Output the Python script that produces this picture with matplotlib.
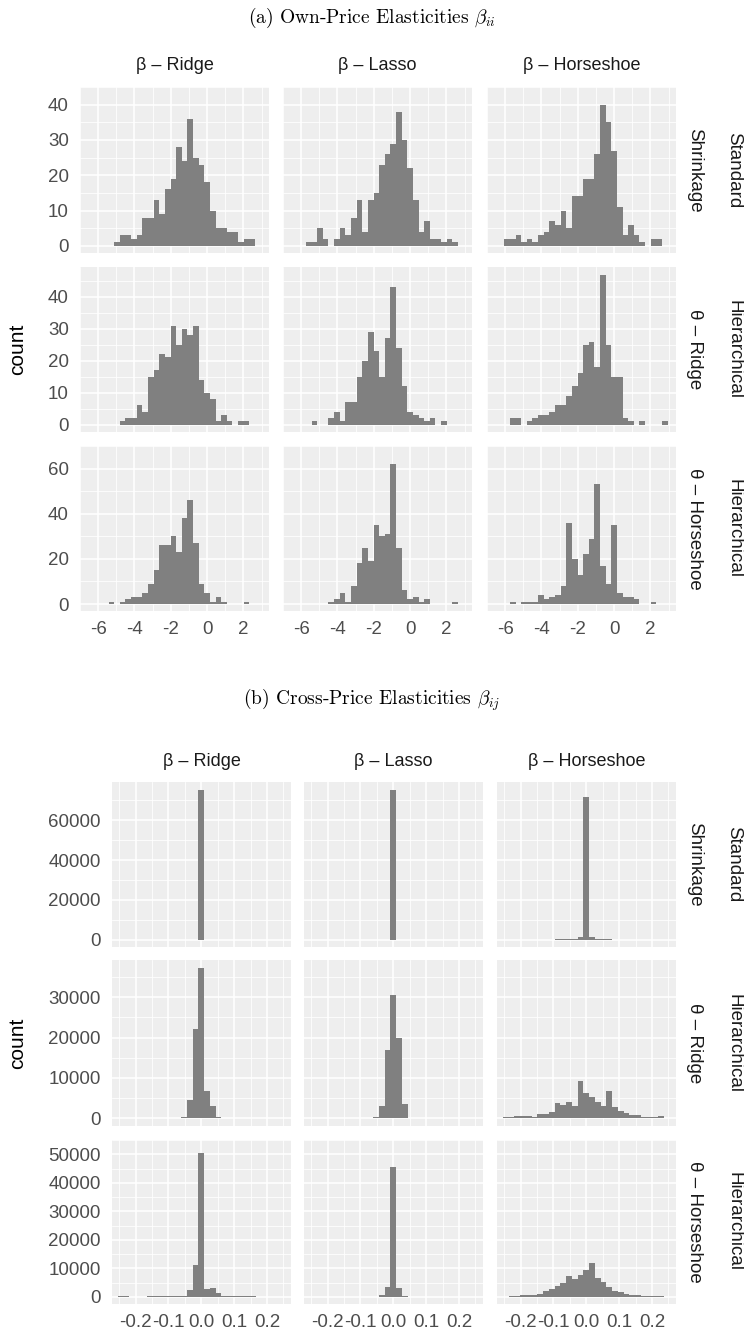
import numpy as np
import matplotlib.pyplot as plt

plt.rcParams['font.family'] = ['Liberation Sans', 'DejaVu Sans']
plt.rcParams['mathtext.fontset'] = 'cm'
plt.rcParams['axes.unicode_minus'] = False

W, H = 744, 1336

col_names = ['β – Ridge', 'β – Lasso', 'β – Horseshoe']
row_names = [('Standard', 'Shrinkage'),
             ('Hierarchical', 'θ – Ridge'),
             ('Hierarchical', 'θ – Horseshoe')]

# ---- (a) own-price elasticities: 30 bins centred on k*0.31, k = -20..9 ----
own_bin_w = 0.31
own_k0 = -20
own_ridge_std = [0, 0, 0, 0, 1, 3, 3, 2, 3, 8, 8, 13, 9, 16, 19, 28, 24, 36, 25, 23,
                 18, 10, 5, 5, 4, 4, 1, 2, 2, 0]
own_lasso_std = [0, 0, 1, 1, 5, 2, 0, 2, 5, 3, 8, 13, 4, 13, 15, 23, 26, 29, 38, 30,
                 22, 13, 4, 7, 2, 2, 1, 2, 1, 0]
own_hs_std = [0, 2, 2, 3, 1, 2, 1, 3, 4, 7, 6, 10, 5, 14, 14, 19, 19, 26, 40, 35,
              27, 11, 3, 6, 3, 1, 0, 2, 2, 0]
own_ridge_hr = [0, 0, 0, 0, 0, 1, 2, 2, 6, 4, 15, 17, 22, 21, 31, 25, 30, 28, 31, 14,
                10, 8, 1, 3, 1, 0, 1, 1, 0, 0]
own_lasso_hr = [0, 0, 0, 1, 0, 0, 2, 4, 1, 7, 7, 15, 20, 29, 23, 15, 27, 43, 24, 12,
                4, 3, 2, 1, 2, 0, 1, 0, 0, 0]
own_hs_hr = [0, 0, 2, 2, 0, 1, 2, 3, 3, 4, 6, 6, 9, 12, 16, 25, 26, 18, 47, 25,
             15, 15, 2, 1, 0, 1, 0, 0, 0, 1]
own_ridge_hh = [0, 0, 0, 1, 0, 1, 2, 3, 3, 5, 9, 15, 26, 26, 30, 23, 38, 46, 27, 9,
                5, 1, 3, 1, 0, 0, 0, 1, 0, 0]
own_lasso_hh = [0, 0, 0, 0, 0, 0, 1, 2, 5, 1, 8, 18, 25, 19, 35, 30, 31, 62, 25, 6,
                2, 3, 1, 2, 0, 0, 0, 0, 1, 0]
own_hs_hh = [0, 0, 1, 0, 1, 1, 1, 4, 2, 3, 4, 8, 36, 20, 13, 22, 29, 53, 17, 9,
             35, 5, 3, 3, 2, 0, 0, 1, 0, 0]

own_grid = [[own_ridge_std, own_lasso_std, own_hs_std],
            [own_ridge_hr, own_lasso_hr, own_hs_hr],
            [own_ridge_hh, own_lasso_hh, own_hs_hh]]
own_xticks = [-6, -4, -2, 0, 2]
own_yticks = [[0, 10, 20, 30, 40], [0, 10, 20, 30, 40], [0, 20, 40, 60]]

# ---- (b) cross-price elasticities: 30 bins centred on k*0.0175, k = -15..14 ----
cross_bin_w = 0.0175
cross_k0 = -15
cross_ridge_std = [0] * 15 + [75500] + [0] * 14
cross_lasso_std = [0] * 15 + [75200] + [0] * 14
cross_hs_std = [0] * 10 + [200, 200, 200, 200, 1300, 71800, 1300, 200, 200, 200] + [0] * 10
cross_ridge_hr = [0] * 12 + [250, 4600, 22200, 37300, 6700, 3100, 420] + [0] * 11
cross_lasso_hr = [0] * 12 + [300, 3000, 17000, 30500, 20000, 3500, 0] + [0] * 11
cross_hs_hr = [0, 250, 250, 580, 580, 580, 250, 1000, 1000, 1670, 3750, 3330, 4170, 3080,
               9330, 6250, 5400, 4170, 3170, 6670, 2900, 1830, 1250, 830, 830, 250, 250,
               250, 580, 0]
cross_ridge_hh = [0, 150, 150, 0, 0, 0, 150, 150, 150, 150, 300, 250, 250, 2300, 11200,
                  50300, 2800, 3100, 1200, 250, 150, 150, 150, 150, 150, 0, 0, 0, 0, 0]
cross_lasso_hh = [0] * 13 + [500, 3500, 45500, 3000, 400] + [0] * 12
cross_hs_hh = [0, 0, 200, 200, 500, 500, 800, 1100, 1900, 2800, 3700, 4800, 7400, 6100,
               7800, 9400, 11700, 6700, 5200, 3600, 2100, 1700, 900, 500, 500, 200, 200,
               200, 200, 0]

cross_grid = [[cross_ridge_std, cross_lasso_std, cross_hs_std],
              [cross_ridge_hr, cross_lasso_hr, cross_hs_hr],
              [cross_ridge_hh, cross_lasso_hh, cross_hs_hh]]
cross_xticks = [-0.2, -0.1, 0.0, 0.1, 0.2]
cross_xlabels = ['-0.2', '-0.1', '0.0', '0.1', '0.2']
cross_yticks = [[0, 20000, 40000, 60000], [0, 10000, 20000, 30000],
                [0, 10000, 20000, 30000, 40000, 50000]]

PANEL_BG = '#EEEEEE'
BAR = '#808080'
TICK_COL = '#4D4D4D'
STRIP_COL = '#1A1A1A'


def px_axes(fig, x0, y0, x1, y1):
    return fig.add_axes([x0 / W, 1 - y1 / H, (x1 - x0) / W, (y1 - y0) / H])


def draw_block(fig, grid, bin_w, k0, xlim, xticks, xlabels, yticks,
               col_x, row_y, title, title_y, count_y):
    fig.text(0.5, 1 - title_y / H, title, ha='center', va='center',
             fontsize=14, family='cmr10')
    for r, row in enumerate(grid):
        top = max(max(c) for c in row)
        for c, counts in enumerate(row):
            x0, x1 = col_x[c]
            y0, y1 = row_y[r]
            ax = px_axes(fig, x0, y0, x1, y1)
            ax.set_facecolor(PANEL_BG)
            for s in ax.spines.values():
                s.set_visible(False)
            centers = (k0 + np.arange(len(counts))) * bin_w
            ax.set_axisbelow(True)
            ax.bar(centers, counts, width=bin_w, color=BAR, linewidth=0)
            ax.set_xlim(*xlim)
            ax.set_ylim(-0.05 * top, 1.05 * top)
            ax.set_xticks(xticks)
            ax.set_yticks(yticks[r])
            step = xticks[1] - xticks[0]
            mx = [t + step / 2 for t in xticks] + [xticks[0] - step / 2]
            ax.set_xticks(mx, minor=True)
            ys = yticks[r]
            ystep = ys[1] - ys[0]
            ax.set_yticks([t + ystep / 2 for t in ys], minor=True)
            ax.grid(which='major', color='white', linewidth=1.1)
            ax.grid(which='minor', color='white', linewidth=0.55)
            ax.tick_params(which='both', length=0, labelsize=13.5, labelcolor=TICK_COL)
            ax.tick_params(axis='x', pad=7)
            ax.tick_params(axis='y', pad=8)
            if r == 2:
                ax.set_xticklabels(xlabels)
            else:
                ax.set_xticklabels([])
            if c != 0:
                ax.set_yticklabels([])
            if r == 0:
                fig.text((x0 + x1) / 2 / W, 1 - (y0 - 21) / H, col_names[c],
                         ha='center', va='center', fontsize=13, color=STRIP_COL)
            if c == 2:
                cy = 1 - (y0 + y1) / 2 / H
                fig.text(734 / W, cy, row_names[r][0], rotation=-90, ha='center',
                         va='center', fontsize=13.5, color=STRIP_COL)
                fig.text(695 / W, cy, row_names[r][1], rotation=-90, ha='center',
                         va='center', fontsize=13.5, color=STRIP_COL)
    fig.text(18 / W, 1 - count_y / H, 'count', rotation=90, ha='center',
             va='center', fontsize=15)


fig = plt.figure(figsize=(W / 100, H / 100), dpi=100)

draw_block(fig, own_grid, own_bin_w, own_k0, (-6.36, 3.41), own_xticks,
           [str(t) for t in own_xticks], own_yticks,
           col_x=[(80, 269), (283, 472), (487, 676)],
           row_y=[(87, 253), (267, 432), (446, 611)],
           title=r'(a) Own-Price Elasticities $\beta_{ii}$', title_y=18, count_y=349)

draw_block(fig, cross_grid, cross_bin_w, cross_k0, (-0.272, 0.273), cross_xticks,
           cross_xlabels, cross_yticks,
           col_x=[(112, 291), (304, 483), (497, 676)],
           row_y=[(782, 947), (960, 1126), (1140, 1304)],
           title=r'(b) Cross-Price Elasticities $\beta_{ij}$', title_y=700, count_y=1043)

fig.savefig('out.png', dpi=100, facecolor='white')
